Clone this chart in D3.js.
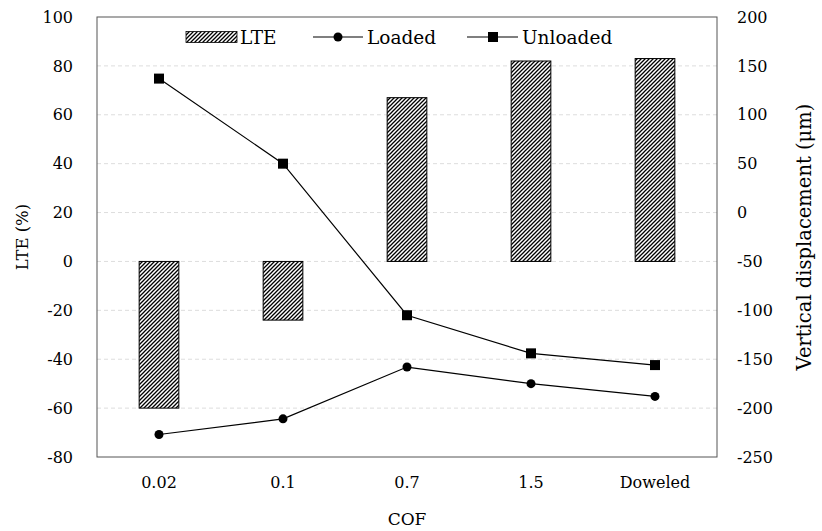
<!DOCTYPE html>
<html>
<head>
  <meta charset="utf-8">
  <script src="https://d3js.org/d3.v7.min.js"></script>
</head>
<style>
  body { margin: 0; background: #fff; }
  svg text { font-family: "DejaVu Serif", serif; font-size: 16px; fill: #000; }
  .grid line { stroke: #ddd; stroke-dasharray: 4 3; }
  .legend text { font-size: 18.5px; }
</style>
<body>
  <svg id="chart" width="822" height="531"></svg>
  <script>
    // data
    const categories = ["0.02", "0.1", "0.7", "1.5", "Doweled"];
    const lte = [-60, -24, 67, 82, 83];
    const loaded = [-227, -211, -158, -175, -188];
    const unloaded = [137, 50, -105, -144, -156];
    const leftTicks = [-80, -60, -40, -20, 0, 20, 40, 60, 80, 100];
    const rightTicks = [-250, -200, -150, -100, -50, 0, 50, 100, 150, 200];

    const svg = d3.select("#chart");
    const plotL = 97, plotR = 717, plotT = 17, plotB = 457;

    const x = d3.scaleBand().domain(categories).range([plotL, plotR]).paddingInner(0.68).paddingOuter(0.34);
    const xc = d => x(d) + x.bandwidth() / 2;
    const yL = d3.scaleLinear().domain([-80, 100]).range([plotB, plotT]);
    const yR = d3.scaleLinear().domain([-250, 200]).range([plotB, plotT]);

    // hatch pattern
    const pat = svg.append("defs").append("pattern")
      .attr("id", "hatch")
      .attr("patternUnits", "userSpaceOnUse")
      .attr("width", 4).attr("height", 4);
    pat.append("rect").attr("width", 4).attr("height", 4).attr("fill", "#fff");
    pat.append("path")
      .attr("d", "M0,4 L4,0 M-1,1 L1,-1 M3,5 L5,3")
      .attr("stroke", "#000").attr("stroke-width", 1.3);

    // gridlines
    svg.append("g").attr("class", "grid")
      .selectAll("line").data(leftTicks.filter(d => d > -80 && d < 100)).join("line")
      .attr("x1", plotL).attr("x2", plotR)
      .attr("y1", d => yL(d)).attr("y2", d => yL(d));

    // bars
    svg.append("g").selectAll("rect").data(categories).join("rect")
      .attr("x", d => x(d))
      .attr("width", x.bandwidth())
      .attr("y", (d, i) => yL(Math.max(0, lte[i])))
      .attr("height", (d, i) => Math.abs(yL(lte[i]) - yL(0)))
      .attr("fill", "url(#hatch)")
      .attr("stroke", "#000").attr("stroke-width", 1);

    // plot frame
    svg.append("rect")
      .attr("x", plotL).attr("y", plotT)
      .attr("width", plotR - plotL).attr("height", plotB - plotT)
      .attr("fill", "none").attr("stroke", "#555").attr("stroke-width", 1);

    // lines
    const line = d3.line().x((d, i) => xc(categories[i])).y(d => yR(d));
    svg.append("path").datum(loaded).attr("d", line)
      .attr("fill", "none").attr("stroke", "#000").attr("stroke-width", 1.2);
    svg.append("path").datum(unloaded).attr("d", line)
      .attr("fill", "none").attr("stroke", "#000").attr("stroke-width", 1.2);

    svg.append("g").selectAll("circle").data(loaded).join("circle")
      .attr("cx", (d, i) => xc(categories[i])).attr("cy", d => yR(d))
      .attr("r", 4.5).attr("fill", "#000");
    svg.append("g").selectAll("rect").data(unloaded).join("rect")
      .attr("x", (d, i) => xc(categories[i]) - 5).attr("y", d => yR(d) - 5)
      .attr("width", 10).attr("height", 10).attr("fill", "#000");

    // axes (labels only), plain hyphen for negatives
    const fmt = d => String(d);
    const axL = svg.append("g").attr("transform", `translate(${plotL},0)`)
      .call(d3.axisLeft(yL).tickValues(leftTicks).tickFormat(fmt).tickSize(0).tickPadding(24));
    const axR = svg.append("g").attr("transform", `translate(${plotR},0)`)
      .call(d3.axisRight(yR).tickValues(rightTicks).tickFormat(fmt).tickSize(0).tickPadding(20));
    const axB = svg.append("g").attr("transform", `translate(0,${plotB})`)
      .call(d3.axisBottom(x).tickSize(0).tickPadding(20));
    [axL, axR, axB].forEach(a => {
      a.attr("font-family", null).attr("font-size", null);
      a.select(".domain").remove();
    });

    // titles
    svg.append("text").attr("transform", "translate(28,237) rotate(-90)")
      .attr("text-anchor", "middle").style("font-size", "16.5px").text("LTE (%)");
    svg.append("text").attr("transform", "translate(811,237) rotate(-90)")
      .attr("text-anchor", "middle").style("font-size", "19.5px").text("Vertical displacement (μm)");
    svg.append("text").attr("x", (plotL + plotR) / 2).attr("y", 525)
      .attr("text-anchor", "middle").style("font-size", "17px").text("COF");

    // legend
    const lg = svg.append("g").attr("class", "legend").attr("transform", "translate(0,37)");
    lg.append("rect").attr("x", 186).attr("y", -5.5).attr("width", 51).attr("height", 11)
      .attr("fill", "url(#hatch)").attr("stroke", "#000").attr("stroke-width", 0.8);
    lg.append("text").attr("x", 240).attr("y", 6.5).text("LTE");
    lg.append("line").attr("x1", 313).attr("x2", 363).attr("stroke", "#000").attr("stroke-width", 1.2);
    lg.append("circle").attr("cx", 338).attr("r", 4.5).attr("fill", "#000");
    lg.append("text").attr("x", 367).attr("y", 6.5).text("Loaded");
    lg.append("line").attr("x1", 467).attr("x2", 518).attr("stroke", "#000").attr("stroke-width", 1.2);
    lg.append("rect").attr("x", 488).attr("y", -5).attr("width", 10).attr("height", 10).attr("fill", "#000");
    lg.append("text").attr("x", 522).attr("y", 6.5).text("Unloaded");
  </script>
</body>
</html>
